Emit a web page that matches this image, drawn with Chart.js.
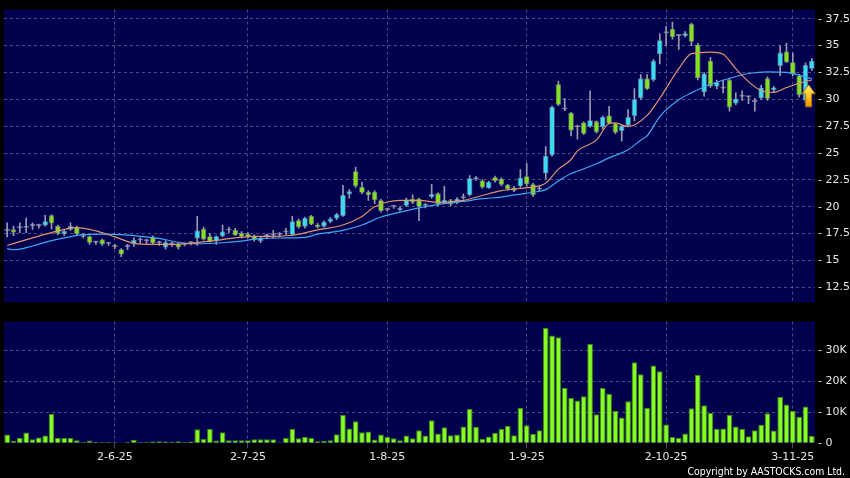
<!DOCTYPE html>
<html>
<head>
<meta charset="utf-8">
<script src="https://cdn.jsdelivr.net/npm/chart.js@4.4.1/dist/chart.umd.min.js"></script>
<style>
  html, body { margin: 0; padding: 0; background: #000; }
  #wrap { position: relative; width: 850px; height: 478px; overflow: hidden; background: #000; }
  #price { position: absolute; left: 0; top: 0; }
  #vol { position: absolute; left: 0; top: 312px; }
  #copy { position: absolute; right: 5px; top: 465px; color: #fff;
          font: 10.4px "DejaVu Sans Condensed", "DejaVu Sans", sans-serif; white-space: nowrap; }
</style>
</head>
<body>
<div id="wrap">
  <canvas id="price" width="850" height="312"></canvas>
  <canvas id="vol" width="850" height="166"></canvas>
  <div id="copy">Copyright by AASTOCKS.com Ltd.</div>
</div>
<script>
// daily OHLC
const opens = [17.75,17.9,18.0,18.05,18.2,18.2,18.25,19.2,18.2,17.45,
  17.85,18.1,17.4,17.25,16.65,16.95,16.55,16.45,16.05,16.25,
  16.55,16.85,16.8,17.2,16.6,16.2,16.5,16.55,16.5,16.6,
  17.05,17.95,17.25,16.8,17.25,17.8,17.85,17.55,17.5,17.25,
  16.8,17.25,17.35,17.4,17.6,17.4,18.75,18.15,19.15,18.35,
  18.15,18.6,18.9,19.15,21.15,23.3,21.85,21.4,21.4,20.6,
  19.7,20.0,19.7,20.1,20.75,20.75,20.1,20.9,21.25,20.35,
  20.6,20.4,20.8,21.1,22.55,22.45,21.75,22.75,22.6,22.05,
  21.8,21.9,22.85,22.1,21.6,23.1,24.8,31.4,29.05,28.75,
  27.4,27.85,27.45,27.95,27.4,28.5,27.75,27.05,27.55,28.45,
  30.1,31.95,31.8,34.2,36.15,36.55,35.9,35.9,37.0,35.1,
  30.65,33.6,31.2,31.0,31.8,29.6,30.25,30.2,29.75,30.1,
  31.95,30.85,33.1,34.45,33.45,32.2,29.9,32.85];
const closes = [17.75,17.6,18.0,18.2,18.2,18.2,18.66,18.45,17.5,17.75,
  18.2,17.45,17.2,16.65,16.65,16.5,16.55,16.25,15.55,16.35,
  16.9,16.85,16.8,16.6,16.6,16.7,16.5,16.2,16.5,16.6,
  17.8,16.95,16.75,17.25,17.7,17.8,17.35,17.2,17.2,16.9,
  17.1,17.25,17.35,17.4,17.6,18.65,18.1,18.95,18.35,18.1,
  18.6,18.9,19.3,21.1,21.45,21.9,21.3,21.1,20.6,19.6,
  19.7,20.0,19.9,20.65,20.4,20.0,20.1,21.2,20.2,20.65,
  20.2,20.75,20.8,22.65,22.65,21.8,22.3,22.4,22.05,21.65,
  21.5,22.7,22.1,21.1,21.8,24.75,29.3,29.5,29.05,27.1,
  27.4,26.8,28.05,26.95,28.35,27.75,26.9,27.55,28.35,30.0,
  31.95,30.95,33.6,35.5,36.15,35.8,35.9,36.15,35.35,31.95,
  32.4,31.2,31.6,31.0,29.25,30.05,30.25,30.2,29.75,31.1,
  30.05,31.1,34.35,33.45,32.3,30.4,33.2,33.6];
const highs = [18.5,18.2,18.5,18.95,18.5,18.4,19.2,19.25,18.3,17.9,
  18.5,18.2,17.5,17.3,16.8,17.0,16.7,16.5,16.1,16.5,
  17.1,17.1,17.0,17.3,16.8,16.85,16.7,16.6,16.6,16.75,
  19.1,18.1,17.5,17.3,18.3,18.1,18.0,17.7,17.6,17.4,
  17.2,17.45,17.8,17.6,18.0,19.1,18.85,19.05,19.2,18.45,
  18.7,19.0,19.4,22.0,21.6,23.7,22.3,21.5,21.5,20.7,
  19.8,20.1,20.0,20.8,21.1,20.8,20.3,22.1,21.3,21.9,
  20.7,20.85,21.2,22.9,22.8,22.5,22.4,22.85,22.7,22.1,
  21.9,23.45,24.05,22.2,21.9,25.6,29.4,31.7,30.1,28.8,
  27.6,27.9,30.8,28.0,28.45,29.35,27.8,27.6,29.05,31.0,
  32.3,32.3,33.7,36.1,36.8,37.2,36.0,36.3,37.1,35.2,
  32.5,33.9,31.8,31.8,31.9,30.6,30.8,30.3,30.1,31.3,
  32.1,31.2,35.0,35.2,34.3,32.3,33.4,33.8];
const lows = [17.2,17.3,17.6,17.6,17.9,18.0,18.2,17.95,17.4,17.3,
  17.8,17.4,17.1,16.5,16.5,16.4,16.4,16.1,15.35,16.0,
  16.3,16.6,16.6,16.5,16.4,16.05,16.3,16.05,16.35,16.45,
  16.4,16.9,16.7,16.5,17.2,17.6,17.3,17.1,17.1,16.8,
  16.65,17.05,17.1,17.2,17.4,17.3,18.0,18.0,18.3,18.0,
  18.1,18.5,18.8,19.1,20.8,21.8,21.2,20.6,20.3,19.5,
  19.6,19.85,19.6,20.0,20.3,18.7,19.9,20.8,20.1,20.3,
  20.1,20.3,20.7,21.0,22.45,21.7,21.7,22.3,21.95,21.55,
  21.4,21.8,21.9,20.95,21.5,22.6,24.7,29.4,28.95,26.6,
  26.3,26.7,27.4,26.85,27.2,27.7,26.8,26.1,27.5,28.0,
  30.0,30.9,31.7,33.3,35.0,35.6,34.65,35.8,35.0,31.8,
  30.3,31.1,31.0,30.6,28.9,29.5,29.9,29.6,28.9,30.0,
  29.9,30.7,32.2,33.4,32.2,30.2,29.7,32.7];
// volume in thousands
const volumesK = [2.8,0.8,1.8,3.5,1.3,1.9,2.5,9.5,1.8,1.7,
  1.7,1.0,0.4,0.9,0.5,0.4,0.4,0.3,0.1,0.4,
  1.1,0.4,0.4,0.6,0.7,0.6,0.5,0.7,0.4,0.6,
  4.5,1.4,4.7,0.9,3.6,1.0,1.0,1.0,1.0,1.3,
  1.3,1.3,1.3,0.3,1.7,4.7,1.6,2.1,1.7,0.7,
  0.8,1.0,2.9,9.2,4.8,7.1,3.6,3.8,1.2,2.8,
  2.0,1.6,1.0,2.5,1.6,4.2,2.5,7.4,3.2,5.2,
  2.6,2.8,5.4,11.1,5.3,1.5,2.2,3.4,4.6,5.6,
  2.6,11.4,5.8,3.1,4.2,37.3,34.8,34.2,17.9,14.6,
  13.8,15.2,32.1,9.4,17.8,16.0,10.5,8.3,13.6,26.1,
  22.3,11.4,25.1,23.2,6.1,2.0,1.7,3.2,11.3,22.0,
  12.3,9.8,4.7,4.8,9.2,5.4,4.7,2.3,4.2,6.0,
  9.7,4.1,14.9,12.5,10.5,8.6,11.9,2.4];

// moving averages, read at key bars
const maShortIdx = [0,4,7,11,14,17,20,23,26,29,32,36,39,42,45,46,49,53,56,58,62,65,68,72,75,78,81,84,85,87,89,90,93,95,96,98,101,103,106,108,111,113,115,117,119,121,123,125,127];
const maShortVal = [16.4,17.1,17.6,18.05,17.75,17.2,16.6,16.5,16.5,16.6,16.8,17.1,17.25,17.25,17.35,17.45,17.85,18.3,19.1,20.0,20.6,20.6,20.4,20.6,21.05,21.5,21.7,21.95,22.2,23.5,24.4,25.2,26.2,27.75,27.8,27.45,28.5,30.1,32.85,34.25,34.4,34.2,32.85,31.65,30.8,30.65,31.1,31.5,31.8];
const maLongIdx = [0,1,2,4,7,9,12,15,18,21,24,27,30,34,37,40,44,47,49,53,56,59,62,65,68,72,75,78,80,83,85,87,89,90,93,95,98,100,101,103,106,108,111,114,117,120,123,125,127];
const maLongVal = [16.1,16.0,16.05,16.35,16.85,17.1,17.4,17.45,17.4,17.25,17.05,16.7,16.55,16.65,16.8,17.05,17.1,17.15,17.45,17.8,18.3,19.05,19.5,19.9,20.2,20.5,20.75,20.9,21.1,21.35,21.6,22.4,23.1,23.3,24.0,24.55,25.3,26.2,26.6,28.4,29.95,30.6,31.4,31.95,32.4,32.55,32.5,32.25,31.9];

const tickIndex = [17, 38, 60, 82, 104, 124];
const tickText = ['2-6-25', '2-7-25', '1-8-25', '1-9-25', '2-10-25', '3-11-25'];
const priceTicks = [12.5, 15, 17.5, 20, 22.5, 25, 27.5, 30, 32.5, 35, 37.5];
const volTicks = [0, 10000, 20000, 30000];
const volTickText = ['0', '10K', '20K', '30K'];
const arrowMark = { index: 126.5, top: 31.35, bottom: 29.3 };

const N = opens.length;
const labels = opens.map((_, i) => {
  const k = tickIndex.indexOf(i);
  return k >= 0 ? tickText[k] : '';
});
const sparse = (idx, val) => {
  const a = new Array(N).fill(null);
  idx.forEach((x, k) => { a[x] = val[k]; });
  return a;
};

const NAVY = '#00004e';
const GRID = 'rgba(125,125,165,0.6)';
const CYAN = '#3cdcf0';
const GREEN = '#84e01e';
const DOJI = '#a8a8b8';
const TEXT = '#e6e6e6';
const FONT = { family: 'DejaVu Sans', size: 11 };

const bgPlugin = {
  id: 'navyBg',
  beforeDraw(chart) {
    const { ctx, chartArea: a } = chart;
    ctx.save();
    ctx.fillStyle = NAVY;
    ctx.fillRect(a.left, a.top, a.right - a.left, a.bottom - a.top);
    ctx.restore();
  }
};

const arrowPlugin = {
  id: 'upArrow',
  afterDatasetsDraw(chart) {
    const { ctx, scales } = chart;
    const x = scales.x.getPixelForValue(arrowMark.index);
    const yt = scales.y.getPixelForValue(arrowMark.top);
    const yb = scales.y.getPixelForValue(arrowMark.bottom);
    const hw = 6.5, sw = 3, hh = 9;
    const g = ctx.createLinearGradient(0, yt, 0, yb);
    g.addColorStop(0, '#fff27a');
    g.addColorStop(0.5, '#ffc928');
    g.addColorStop(1, '#e89200');
    ctx.save();
    ctx.beginPath();
    ctx.moveTo(x, yt);
    ctx.lineTo(x + hw, yt + hh);
    ctx.lineTo(x + sw, yt + hh);
    ctx.lineTo(x + sw, yb);
    ctx.lineTo(x - sw, yb);
    ctx.lineTo(x - sw, yt + hh);
    ctx.lineTo(x - hw, yt + hh);
    ctx.closePath();
    ctx.fillStyle = g;
    ctx.fill();
    ctx.strokeStyle = '#b07000';
    ctx.lineWidth = 1;
    ctx.stroke();
    ctx.restore();
  }
};

const gridAtTicks = (c) => (tickIndex.includes(c.index) ? GRID : 'rgba(0,0,0,0)');

const bodyColor = (c) => {
  const i = c.dataIndex;
  if (closes[i] > opens[i]) return CYAN;
  if (closes[i] < opens[i]) return GREEN;
  return DOJI;
};

new Chart(document.getElementById('price'), {
  type: 'bar',
  data: {
    labels: labels,
    datasets: [
      {
        type: 'line', label: 'MA short', data: sparse(maShortIdx, maShortVal),
        borderColor: '#e0936c', borderWidth: 1.2, pointRadius: 0, spanGaps: true,
        cubicInterpolationMode: 'monotone', order: 0
      },
      {
        type: 'line', label: 'MA long', data: sparse(maLongIdx, maLongVal),
        borderColor: '#3fa6f0', borderWidth: 1.2, pointRadius: 0, spanGaps: true,
        cubicInterpolationMode: 'monotone', order: 1
      },
      {
        label: 'body', data: opens.map((o, i) => [o, closes[i]]),
        backgroundColor: bodyColor, borderColor: 'rgba(150,150,175,0.7)', borderWidth: 0.8,
        borderSkipped: false, barPercentage: 0.88, categoryPercentage: 1,
        minBarLength: 2, grouped: false, order: 2
      },
      {
        label: 'wick', data: lows.map((l, i) => [l, highs[i]]),
        backgroundColor: '#9a9aae', barThickness: 1, grouped: false, order: 3
      }
    ]
  },
  options: {
    responsive: false,
    animation: false,
    layout: { padding: { left: 4, top: 6, right: 0, bottom: 0 } },
    plugins: { legend: { display: false }, tooltip: { enabled: false } },
    scales: {
      x: {
        ticks: { display: false, autoSkip: false },
        grid: { color: gridAtTicks, offset: false, drawTicks: false, lineWidth: 1 },
        border: { display: false, dash: [3, 3] },
        afterFit: (s) => { s.height = 6; }
      },
      y: {
        position: 'right', min: 11.1, max: 38.35,
        afterBuildTicks: (s) => { s.ticks = priceTicks.map((v) => ({ value: v })); },
        ticks: { color: TEXT, font: FONT, padding: 3, callback: (v) => '- ' + v },
        grid: { color: GRID, drawTicks: false },
        border: { display: false, dash: [3, 3] },
        afterFit: (s) => { s.width = 35; }
      }
    }
  },
  plugins: [bgPlugin, arrowPlugin]
});

new Chart(document.getElementById('vol'), {
  type: 'bar',
  data: {
    labels: labels,
    datasets: [{
      label: 'volume', data: volumesK.map((v) => v * 1000),
      backgroundColor: '#86fc22', borderColor: '#3f8a12', borderWidth: 1,
      borderSkipped: 'bottom', barPercentage: 0.9, categoryPercentage: 1
    }]
  },
  options: {
    responsive: false,
    animation: false,
    layout: { padding: { left: 4, top: 7, right: 0, bottom: 0 } },
    plugins: { legend: { display: false }, tooltip: { enabled: false } },
    scales: {
      x: {
        ticks: { color: TEXT, font: FONT, autoSkip: false, maxRotation: 0, padding: 2 },
        grid: { color: gridAtTicks, tickColor: gridAtTicks, offset: false, tickLength: 5 },
        border: { display: false, dash: [3, 3] },
        afterFit: (s) => { s.height = 34.7; }
      },
      y: {
        position: 'right', min: 0, max: 39250,
        afterBuildTicks: (s) => { s.ticks = volTicks.map((v) => ({ value: v })); },
        ticks: {
          color: TEXT, font: FONT, padding: 3,
          callback: (v) => '- ' + volTickText[volTicks.indexOf(v)]
        },
        grid: { color: (c) => (c.tick && c.tick.value === 0 ? 'rgba(0,0,0,0)' : GRID), drawTicks: false },
        border: { display: false, dash: [3, 3] },
        afterFit: (s) => { s.width = 35; }
      }
    }
  },
  plugins: [bgPlugin]
});
</script>
</body>
</html>
